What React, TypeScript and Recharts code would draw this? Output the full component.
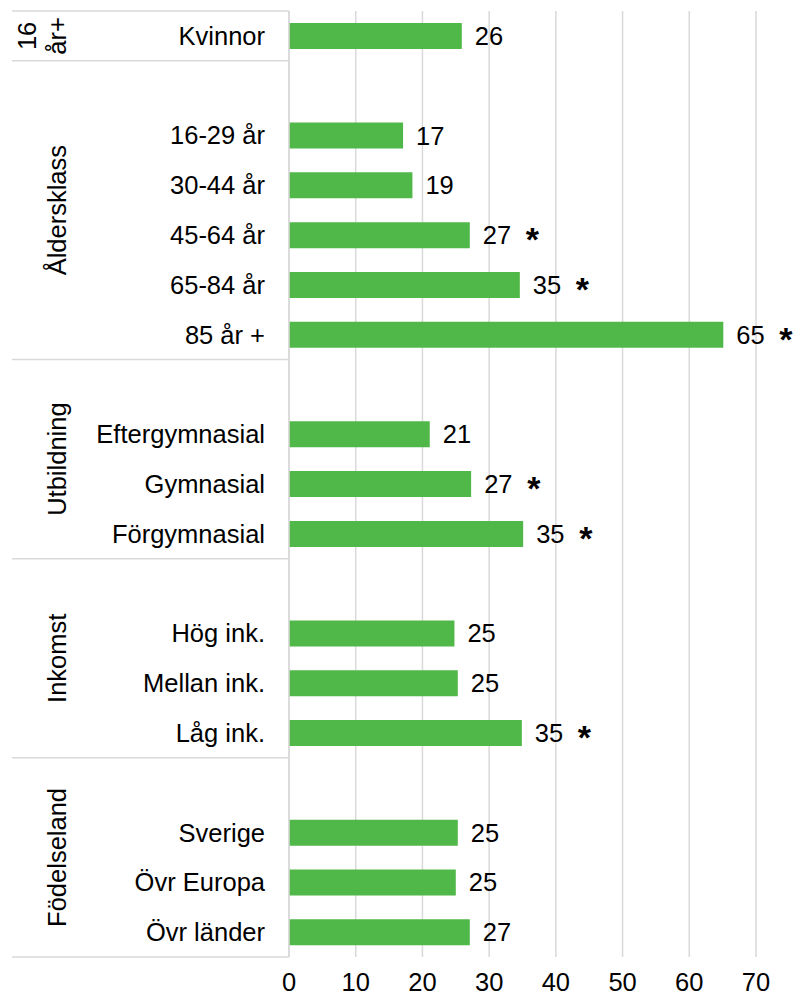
import { BarChart, Bar, XAxis, YAxis, CartesianGrid } from "recharts";

const categories = [
  "Kvinnor",
  "",
  "16-29 år",
  "30-44 år",
  "45-64 år",
  "65-84 år",
  "85 år +",
  "",
  "Eftergymnasial",
  "Gymnasial",
  "Förgymnasial",
  "",
  "Hög ink.",
  "Mellan ink.",
  "Låg ink.",
  "",
  "Sverige",
  "Övr Europa",
  "Övr länder",
];

const values: (number | null)[] = [
  25.9, null, 17.1, 18.5, 27.1, 34.6, 65.1, null, 21.1, 27.3, 35.1, null,
  24.8, 25.3, 34.9, null, 25.3, 25.0, 27.1,
];

// rows marked with an asterisk (significant difference)
const starred = [
  false, false, false, false, true, true, true, false, false, true, true, false,
  false, false, true, false, false, false, false,
];

const groupNames = ["16 år+", "Åldersklass", "Utbildning", "Inkomst", "Födelseland"];
const groupSizes = [1, 6, 4, 4, 4];

const xTicks = [0, 10, 20, 30, 40, 50, 60, 70];

const data = categories.map((label, i) => ({
  id: `r${i}`,
  label,
  value: values[i],
  star: starred[i],
}));

// Bar labels get an index that only counts rows with a value
const barRows = data.filter((d) => d.value != null);

const WIDTH = 796;
const HEIGHT = 987;
const MARGIN = { top: 3, right: 48, bottom: 0, left: 0 };
const Y_AXIS_W = 281;
const X_AXIS_H = 38;
const BAND = (HEIGHT - MARGIN.top - MARGIN.bottom - X_AXIS_H) / categories.length;

const FONT = "'Liberation Sans', Arial, sans-serif";
const FS = 25.5;
const LINE = "#d9d9d9";
const GREEN = "#50b848";

const groupStarts = groupSizes.map((_, g) =>
  groupSizes.slice(0, g).reduce((a, b) => a + b, 0)
);

function CategoryTick(props: any) {
  const { y, payload } = props;
  const i: number = payload.index ?? props.index;
  const g = groupStarts.indexOf(i);
  const gEnd = groupStarts.findIndex((s, k) => s + groupSizes[k] - 1 === i);
  const top = y - BAND / 2;

  let groupLabel = null;
  if (g >= 0) {
    const cy = top + (groupSizes[g] * BAND) / 2;
    const lines = groupSizes[g] === 1 ? groupNames[g].split(" ") : [groupNames[g]];
    groupLabel = lines.map((ln, k) => {
      const cx = 49 - (lines.length - 1 - k) * 30;
      return (
        <text
          key={k}
          x={cx}
          y={cy}
          transform={`rotate(-90 ${cx} ${cy})`}
          textAnchor="middle"
          dominantBaseline="central"
          fontSize={FS}
          fontFamily={FONT}
          fill="#000"
        >
          {ln}
        </text>
      );
    });
  }

  return (
    <g>
      {i === 0 && (
        <line x1={4} x2={Y_AXIS_W} y1={top} y2={top} stroke={LINE} strokeWidth={1.5} />
      )}
      {gEnd >= 0 && (
        <line
          x1={4}
          x2={Y_AXIS_W}
          y1={y + BAND / 2}
          y2={y + BAND / 2}
          stroke={LINE}
          strokeWidth={1.5}
        />
      )}
      {groupLabel}
      <text
        x={Y_AXIS_W - 24}
        y={y}
        textAnchor="end"
        dominantBaseline="central"
        fontSize={FS}
        fontFamily={FONT}
        fill="#000"
      >
        {categories[i]}
      </text>
    </g>
  );
}

function ValueLabel(props: any) {
  const { x, y, width, height, value, index } = props;
  if (value == null) return null;
  const ex = Number(x) + Number(width);
  const cy = Number(y) + Number(height) / 2;
  return (
    <g>
      <text
        x={ex + 13}
        y={cy}
        dominantBaseline="central"
        fontSize={FS}
        fontFamily={FONT}
        fill="#000"
      >
        {Math.round(value)}
      </text>
      {barRows[index]?.star && (
        <text
          x={ex + 56}
          y={cy + 16}
          fontSize={34}
          fontWeight="bold"
          fontFamily={FONT}
          fill="#000"
        >
          *
        </text>
      )}
    </g>
  );
}

export default function App() {
  return (
    <div style={{ width: WIDTH, height: HEIGHT }}>
      <BarChart
        width={WIDTH}
        height={HEIGHT}
        data={data}
        layout="vertical"
        margin={MARGIN}
      >
        <CartesianGrid horizontal={false} stroke={LINE} strokeWidth={1.5} />
        <XAxis
          type="number"
          domain={[0, 70]}
          ticks={xTicks}
          axisLine={false}
          tickLine={false}
          height={X_AXIS_H}
          tickMargin={10}
          tick={{ fontSize: FS, fill: "#000", fontFamily: FONT }}
        />
        <YAxis
          type="category"
          dataKey="id"
          width={Y_AXIS_W}
          interval={0}
          axisLine={{ stroke: LINE, strokeWidth: 1.5 }}
          tickLine={false}
          tick={<CategoryTick />}
        />
        <Bar
          dataKey="value"
          fill={GREEN}
          barSize={26}
          isAnimationActive={false}
          label={<ValueLabel />}
        />
      </BarChart>
    </div>
  );
}
